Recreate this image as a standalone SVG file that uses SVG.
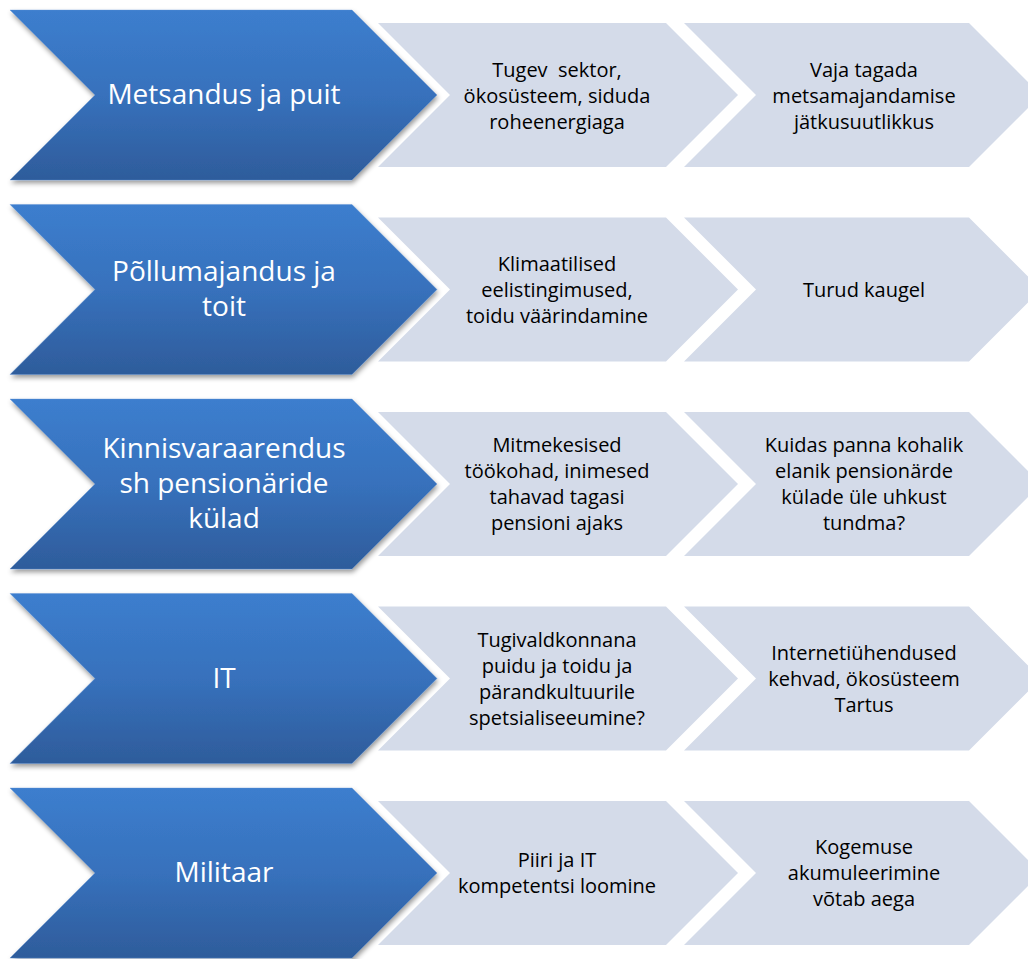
<svg xmlns="http://www.w3.org/2000/svg" width="1028" height="959" viewBox="0 0 1028 959">
  <defs>
    <linearGradient id="blueGrad" x1="0" y1="0" x2="0" y2="1">
      <stop offset="0" stop-color="#3C7ECE"/>
      <stop offset="0.5" stop-color="#3771BC"/>
      <stop offset="1" stop-color="#2E5C9B"/>
    </linearGradient>
    <filter id="shadow" x="-5%" y="-10%" width="115%" height="130%">
      <feDropShadow dx="1" dy="3" stdDeviation="2.5" flood-color="#000" flood-opacity="0.4"/>
    </filter>
    <path id="blueChev" d="M10,0 L352,0 L437,85 L352,170 L10,170 L95,85 Z"/>
    <path id="lightChev1" d="M378,13 L666,13 L738,85 L666,157 L378,157 L450,85 Z"/>
    <path id="lightChev2" d="M684,13 L969,13 L1041,85 L969,157 L684,157 L756,85 Z"/>
  </defs>
  <style>
    .blue { fill: url(#blueGrad); filter: url(#shadow); stroke: #5E93D4; stroke-width: 0.6; stroke-opacity: 0.6; }
    .light { fill: #D4DBE9; }
    .lbl { font-family: "Open Sans", "Liberation Sans", sans-serif; font-size: 28px; fill: #FFFFFF; text-anchor: middle; }
    .txt { font-family: "Open Sans", "Liberation Sans", sans-serif; font-size: 20px; fill: #000000; text-anchor: middle; }
  </style>
  <rect width="1028" height="959" fill="#FFFFFF"/>
  <g id="connectors"/>

  <!-- Row 1 -->
  <g id="row1" transform="translate(0,10)">
    <g id="row1-c3"><use href="#lightChev2" class="light"/>
      <text class="txt" x="864" y="67">Vaja tagada</text>
      <text class="txt" x="864" y="93">metsamajandamise</text>
      <text class="txt" x="864" y="119">jätkusuutlikkus</text>
    </g>
    <g id="row1-c2"><use href="#lightChev1" class="light"/>
      <text class="txt" x="557" y="67" xml:space="preserve">Tugev  sektor,</text>
      <text class="txt" x="557" y="93">ökosüsteem, siduda</text>
      <text class="txt" x="557" y="119">roheenergiaga</text>
    </g>
    <g id="row1-main"><use href="#blueChev" class="blue"/>
      <text class="lbl" x="224" y="94">Metsandus ja puit</text>
    </g>
  </g>

  <!-- Row 2 -->
  <g id="row2" transform="translate(0,204.5)">
    <g id="row2-c3"><use href="#lightChev2" class="light"/>
      <text class="txt" x="864" y="92">Turud kaugel</text>
    </g>
    <g id="row2-c2"><use href="#lightChev1" class="light"/>
      <text class="txt" x="557" y="66">Klimaatilised</text>
      <text class="txt" x="557" y="92">eelistingimused,</text>
      <text class="txt" x="557" y="118">toidu väärindamine</text>
    </g>
    <g id="row2-main"><use href="#blueChev" class="blue"/>
      <text class="lbl" x="224" y="76.5">Põllumajandus ja</text>
      <text class="lbl" x="224" y="111.5">toit</text>
    </g>
  </g>

  <!-- Row 3 -->
  <g id="row3" transform="translate(0,399)">
    <g id="row3-c3"><use href="#lightChev2" class="light"/>
      <text class="txt" x="864" y="53">Kuidas panna kohalik</text>
      <text class="txt" x="864" y="79">elanik pensionärde</text>
      <text class="txt" x="864" y="105">külade üle uhkust</text>
      <text class="txt" x="864" y="131">tundma?</text>
    </g>
    <g id="row3-c2"><use href="#lightChev1" class="light"/>
      <text class="txt" x="557" y="53">Mitmekesised</text>
      <text class="txt" x="557" y="79">töökohad, inimesed</text>
      <text class="txt" x="557" y="105">tahavad tagasi</text>
      <text class="txt" x="557" y="131">pensioni ajaks</text>
    </g>
    <g id="row3-main"><use href="#blueChev" class="blue"/>
      <text class="lbl" x="224" y="59">Kinnisvaraarendus</text>
      <text class="lbl" x="224" y="94">sh pensionäride</text>
      <text class="lbl" x="224" y="129">külad</text>
    </g>
  </g>

  <!-- Row 4 -->
  <g id="row4" transform="translate(0,593.5)">
    <g id="row4-c3"><use href="#lightChev2" class="light"/>
      <text class="txt" x="864" y="66">Internetiühendused</text>
      <text class="txt" x="864" y="92">kehvad, ökosüsteem</text>
      <text class="txt" x="864" y="118">Tartus</text>
    </g>
    <g id="row4-c2"><use href="#lightChev1" class="light"/>
      <text class="txt" x="557" y="53">Tugivaldkonnana</text>
      <text class="txt" x="557" y="79">puidu ja toidu ja</text>
      <text class="txt" x="557" y="105">pärandkultuurile</text>
      <text class="txt" x="557" y="131">spetsialiseeumine?</text>
    </g>
    <g id="row4-main"><use href="#blueChev" class="blue"/>
      <text class="lbl" x="224" y="94">IT</text>
    </g>
  </g>

  <!-- Row 5 -->
  <g id="row5" transform="translate(0,788)">
    <g id="row5-c3"><use href="#lightChev2" class="light"/>
      <text class="txt" x="864" y="66">Kogemuse</text>
      <text class="txt" x="864" y="92">akumuleerimine</text>
      <text class="txt" x="864" y="118">võtab aega</text>
    </g>
    <g id="row5-c2"><use href="#lightChev1" class="light"/>
      <text class="txt" x="557" y="79">Piiri ja IT</text>
      <text class="txt" x="557" y="105">kompetentsi loomine</text>
    </g>
    <g id="row5-main"><use href="#blueChev" class="blue"/>
      <text class="lbl" x="224" y="94">Militaar</text>
    </g>
  </g>
</svg>
